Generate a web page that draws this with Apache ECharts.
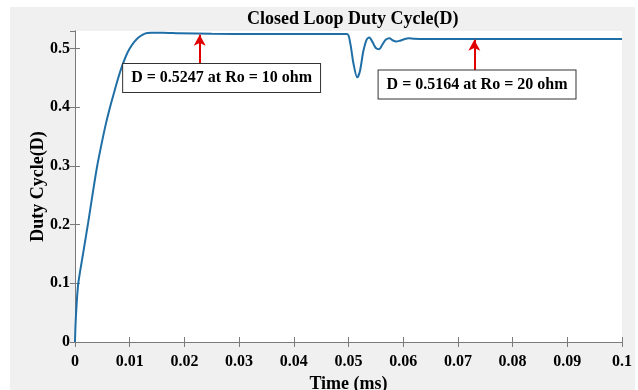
<!DOCTYPE html>
<html>
<head>
<meta charset="utf-8">
<script src="https://cdn.jsdelivr.net/npm/echarts@6/dist/echarts.min.js"></script>
<style>
  html, body { margin: 0; padding: 0; background: #ffffff; }
  #wrap { position: relative; width: 638px; height: 390px; }
  #panel { position: absolute; left: 10px; top: 7px; width: 625px; height: 383px; background: #f0f0f0; }
  #chart { position: absolute; left: 0; top: 0; width: 638px; height: 390px; }
</style>
</head>
<body>
<div id="wrap">
  <div id="panel"></div>
  <div id="chart"></div>
</div>
<script>
  // time (ms) and duty cycle
  const time = [0, 0.0001, 0.0003, 0.0006, 0.0015, 0.0024, 0.0032, 0.004, 0.0048, 0.0056,
    0.0064, 0.0072, 0.0079, 0.0086, 0.0093, 0.01, 0.0108, 0.0116, 0.0124, 0.0132,
    0.014, 0.016, 0.019, 0.025, 0.033, 0.04, 0.0497,
    0.0503, 0.0509, 0.0516, 0.0521, 0.0527, 0.0533, 0.0538, 0.0544, 0.055, 0.0556,
    0.0562, 0.0568, 0.0575, 0.0581, 0.0587, 0.0594, 0.0602, 0.061, 0.062, 0.064,
    0.07, 0.08, 0.09, 0.1]
  const duty = [0, 0.03, 0.065, 0.1, 0.152, 0.203, 0.251, 0.297, 0.335, 0.37,
    0.4, 0.427, 0.45, 0.47, 0.487, 0.5, 0.511, 0.519, 0.524, 0.5265,
    0.527, 0.527, 0.5262, 0.5252, 0.5247, 0.5247, 0.5247,
    0.51, 0.475, 0.451, 0.462, 0.495, 0.515, 0.519, 0.511, 0.501, 0.499,
    0.507, 0.515, 0.5175, 0.514, 0.512, 0.5135, 0.516, 0.5175, 0.5168, 0.5164,
    0.5164, 0.5164, 0.5164, 0.5164]

  const xTicks = [0, 0.01, 0.02, 0.03, 0.04, 0.05, 0.06, 0.07, 0.08, 0.09, 0.1]
  const yTicks = [0, 0.1, 0.2, 0.3, 0.4, 0.5]

  // annotations: [x, yFrom, yTo] for arrows, [x, y, text] for boxes
  const arrows = [[0.0228, 0.4746, 0.5235], [0.073, 0.4627, 0.515]]
  const notes = [
    [0.0268, 0.45, 'D = 0.5247 at Ro = 10 ohm'],
    [0.0735, 0.439, 'D = 0.5164 at Ro = 20 ohm']
  ]

  const font = '"Liberation Serif", "Times New Roman", serif'
  const axisGray = '#7a7a7a'

  const mChart = echarts.init(document.getElementById('chart'))

  const xBase = {
    type: 'value', min: 0, max: 0.1, interval: 0.01,
    axisLine: { show: true, lineStyle: { color: axisGray, width: 1 } },
    axisTick: { show: true, inside: true, length: 5, lineStyle: { color: axisGray } },
    splitLine: { show: false }
  }
  const yBase = {
    type: 'value', min: 0, max: 0.53, interval: 0.1,
    axisLine: { show: true, lineStyle: { color: axisGray, width: 1 } },
    axisTick: { show: true, inside: true, length: 5, lineStyle: { color: axisGray } },
    splitLine: { show: false }
  }

  const option = {
    animation: false,
    backgroundColor: 'transparent',
    title: {
      text: 'Closed Loop Duty Cycle(D)',
      left: 242, top: 5,
      textStyle: { fontFamily: font, fontWeight: 'bold', fontSize: 18, color: '#000' }
    },
    grid: {
      left: 75, right: 16, top: 31, bottom: 48,
      outerBoundsMode: 'none',
      show: true, backgroundColor: '#ffffff', borderWidth: 0
    },
    xAxis: [
      Object.assign({}, xBase, {
        position: 'bottom',
        name: 'Time (ms)', nameLocation: 'middle', nameGap: 33, nameMoveOverlap: false,
        nameTextStyle: { fontFamily: font, fontWeight: 'bold', fontSize: 18, color: '#000' },
        axisLabel: {
          margin: 12, fontFamily: font, fontWeight: 'bold', fontSize: 16, color: '#000',
          formatter: v => xTicks.some(t => Math.abs(t - v) < 1e-9) ? String(+v.toFixed(2)) : ''
        }
      }),
      Object.assign({}, xBase, { position: 'top', axisLabel: { show: false } })
    ],
    yAxis: [
      Object.assign({}, yBase, {
        position: 'left',
        name: 'Duty Cycle(D)', nameLocation: 'middle', nameGap: 28, nameRotate: 90, nameMoveOverlap: false,
        nameTextStyle: { fontFamily: font, fontWeight: 'bold', fontSize: 18, color: '#000' },
        axisLabel: {
          margin: 5, fontFamily: font, fontWeight: 'bold', fontSize: 16, color: '#000',
          showMaxLabel: false,
          formatter: v => yTicks.some(t => Math.abs(t - v) < 1e-9) ? String(+v.toFixed(1)) : ''
        }
      }),
      Object.assign({}, yBase, { position: 'right', axisLabel: { show: false } })
    ],
    series: [{
      name: 'D',
      type: 'line',
      xAxisIndex: 0, yAxisIndex: 0,
      showSymbol: false,
      smooth: 0.3,
      lineStyle: { color: '#1f6fa6', width: 2 },
      data: time.map((t, i) => [t, duty[i]]),
      markLine: {
        silent: true,
        symbol: ['none', 'arrow'],
        symbolSize: [9, 11],
        label: { show: false },
        lineStyle: { color: '#e00000', width: 2, type: 'solid' },
        data: arrows.map(a => [{ coord: [a[0], a[1]] }, { coord: [a[0], a[2]] }])
      },
      markPoint: {
        silent: true,
        symbol: 'rect',
        symbolSize: 0,
        data: notes.map(n => ({
          coord: [n[0], n[1]],
          label: {
            show: true,
            position: 'inside',
            formatter: n[2],
            fontFamily: font, fontWeight: 'bold', fontSize: 16, color: '#000',
            backgroundColor: '#ffffff',
            borderColor: '#333333', borderWidth: 1,
            padding: [6, 8]
          }
        }))
      }
    }]
  }
  mChart.setOption(option)
  window.addEventListener('resize', function() {
    mChart.resize()
  })
</script>
</body>
</html>
